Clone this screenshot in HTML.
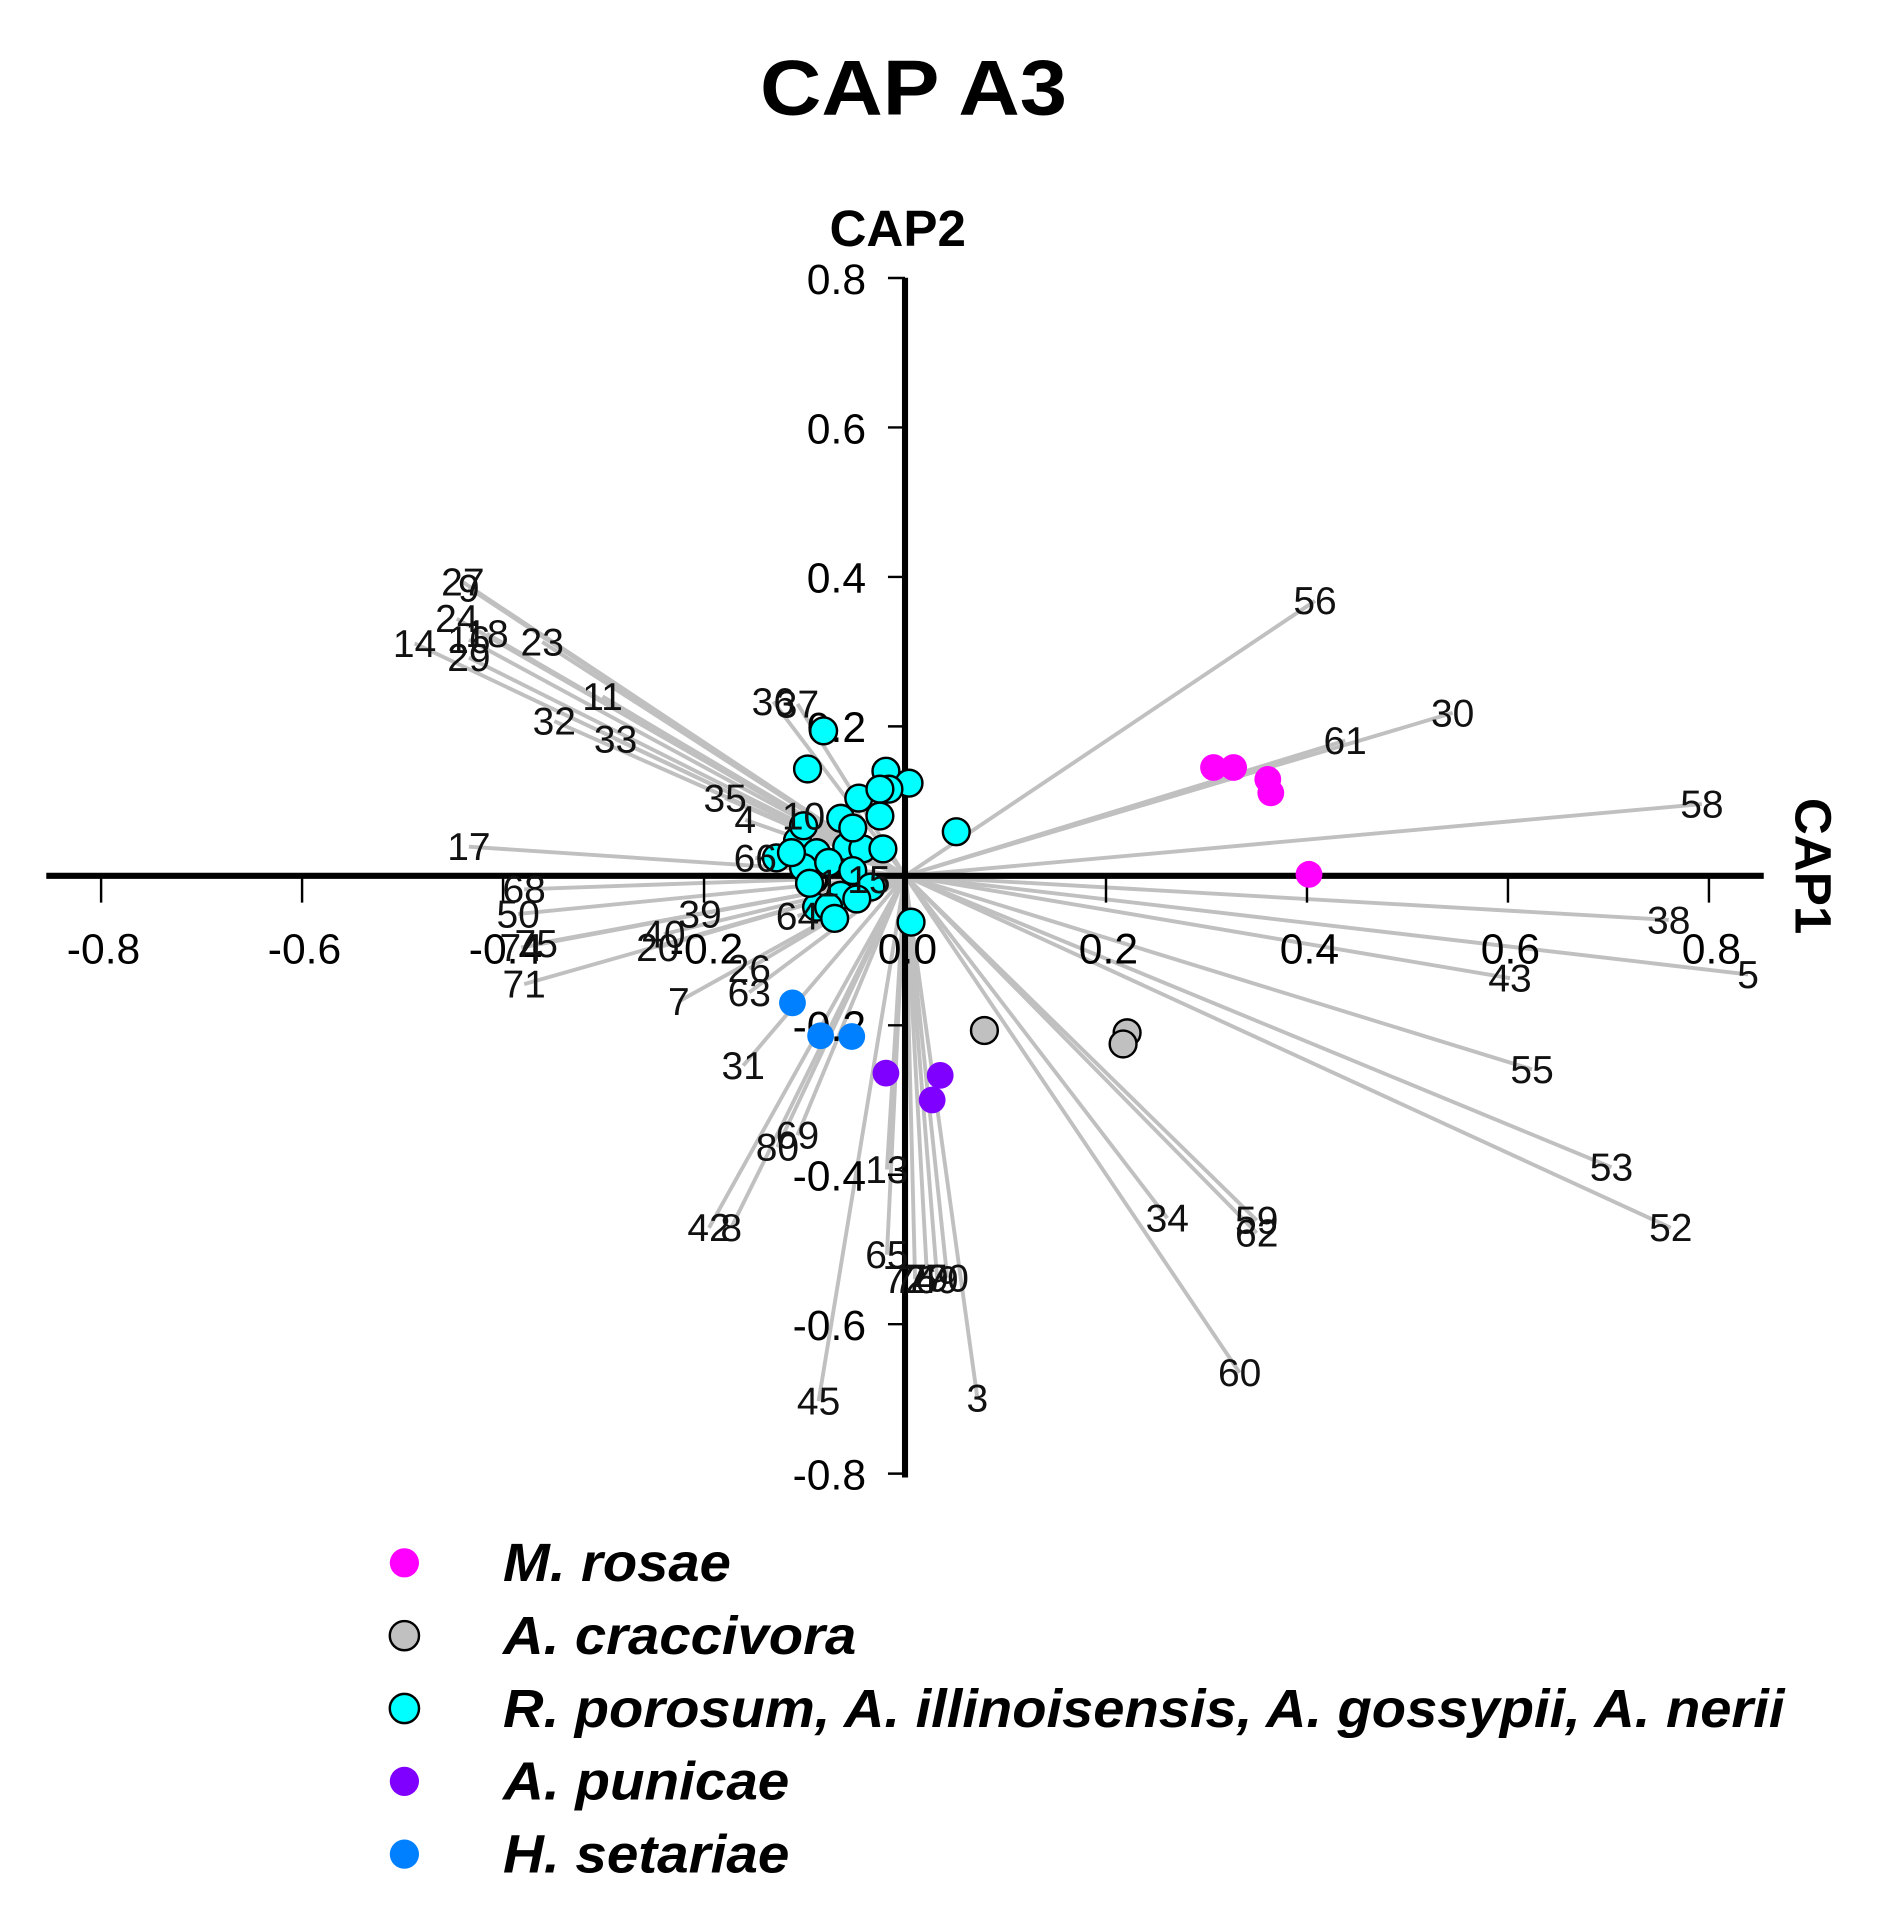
<!DOCTYPE html>
<html><head><meta charset="utf-8"><style>
html,body{margin:0;padding:0;background:#fff;}
svg{display:block;}
text{font-family:"Liberation Sans",Arial,sans-serif;}
</style></head><body>
<svg id="chart" width="1888" height="1910" viewBox="0 0 1550 1568" xmlns="http://www.w3.org/2000/svg">
<text x="750" y="94" font-size="64" font-weight="bold" text-anchor="middle" textLength="252" lengthAdjust="spacingAndGlyphs">CAP A3</text>
<text x="737" y="202" font-size="42" font-weight="bold" text-anchor="middle">CAP2</text>
<text transform="translate(1474,711) rotate(90)" font-size="42" font-weight="bold" text-anchor="middle">CAP1</text>
<g id="vectors"></g>
<g id="axes"></g>
<g id="points"></g>
<g id="vlabels"></g>
<g id="legend"></g>
</svg>
<script>
const vecLabels=["27","9","24","16","18","14","29","23","11","32","33","36","37","35","4","17","68","50","75","74","71","39","40","20","26","7","63","31","69","80","42","8","13","45","65","72","76","79","49","70","3","34","59","62","60","52","53","55","43","5","38","58","30","61","56","10","66","1","15","64"];
const vecX=[-0.440,-0.434,-0.446,-0.434,-0.416,-0.488,-0.434,-0.361,-0.301,-0.349,-0.288,-0.131,-0.107,-0.179,-0.159,-0.434,-0.379,-0.385,-0.367,-0.382,-0.379,-0.204,-0.240,-0.246,-0.155,-0.225,-0.155,-0.161,-0.107,-0.127,-0.195,-0.173,-0.018,-0.086,-0.018,0.000,0.010,0.022,0.032,0.042,0.072,0.261,0.350,0.350,0.333,0.762,0.703,0.624,0.602,0.839,0.760,0.793,0.545,0.438,0.408,-0.101,-0.149,-0.076,-0.036,-0.107];
const vecY=[0.393,0.385,0.344,0.316,0.324,0.311,0.292,0.313,0.240,0.207,0.183,0.233,0.230,0.104,0.075,0.039,-0.018,-0.051,-0.091,-0.096,-0.145,-0.051,-0.078,-0.096,-0.124,-0.168,-0.156,-0.254,-0.347,-0.363,-0.471,-0.471,-0.393,-0.703,-0.507,-0.540,-0.540,-0.538,-0.540,-0.538,-0.699,-0.458,-0.461,-0.478,-0.665,-0.471,-0.390,-0.259,-0.137,-0.132,-0.059,0.096,0.218,0.181,0.368,0.080,0.024,-0.010,-0.005,-0.054];
const magX=[0.307,0.327,0.361,0.364,0.402];
const magY=[0.145,0.145,0.129,0.111,0.002];
const grayX=[0.079,0.221,0.217];
const grayY=[-0.207,-0.210,-0.225];
const purX=[-0.019,0.035,0.027];
const purY=[-0.264,-0.267,-0.300];
const bluX=[-0.112,-0.084,-0.053];
const bluY=[-0.170,-0.214,-0.215];
const cyX=[-0.081,-0.097,-0.019,0.004,-0.046,-0.016,-0.025,-0.064,-0.025,0.051,-0.107,-0.101,-0.088,-0.058,-0.042,-0.022,-0.128,-0.101,-0.076,-0.052,-0.034,-0.064,-0.088,-0.048,-0.076,-0.070,0.006,-0.095,-0.052,-0.113];
const cyY=[0.194,0.143,0.140,0.124,0.104,0.116,0.116,0.077,0.080,0.059,0.047,0.067,0.031,0.039,0.036,0.036,0.024,0.011,0.018,0.007,-0.015,-0.026,-0.042,-0.031,-0.042,-0.057,-0.062,-0.010,0.064,0.031];
const ticks=[-0.8,-0.6,-0.4,-0.2,0.0,0.2,0.4,0.6,0.8];
const tickText=["-0.8","-0.6","-0.4","-0.2","0.0","0.2","0.4","0.6","0.8"];
const legendLabels=["M. rosae","A. craccivora","R. porosum, A. illinoisensis, A. gossypii, A. nerii","A. punicae","H. setariae"];
const legendWidths=[187,290,1052,235,235];

const NS="http://www.w3.org/2000/svg";
const X0=743,Y0=719,SX=825,SY=613.5;
function sx(v){return X0+v*SX;}
function sy(v){return Y0-v*SY;}
function mk(tag,parent,attrs){const e=document.createElementNS(NS,tag);for(const k in attrs)e.setAttribute(k,attrs[k]);parent.appendChild(e);return e;}
const gV=document.getElementById('vectors'),gA=document.getElementById('axes'),gP=document.getElementById('points'),gL=document.getElementById('vlabels'),gG=document.getElementById('legend');

for(let i=0;i<vecLabels.length;i++){
  const l=mk('line',gV,{x1:X0,y1:Y0,x2:sx(vecX[i]),y2:sy(vecY[i]),stroke:'#c0c0c0','stroke-width':3.2});
  
  
  const t=mk('text',gL,{x:sx(vecX[i]),y:sy(vecY[i])+11,'font-size':32,'text-anchor':'middle',fill:'#111'});
  t.textContent=vecLabels[i];
  
  
}
const xa=mk('line',gA,{x1:38,y1:Y0,x2:1448,y2:Y0,stroke:'#000','stroke-width':5});


const ya=mk('line',gA,{x1:X0,y1:228,x2:X0,y2:1213,stroke:'#000','stroke-width':5});


for(let i=0;i<ticks.length;i++){
  const tx=mk('line',gA,{x1:sx(ticks[i]),y1:Y0,x2:sx(ticks[i]),y2:Y0+22,stroke:'#000','stroke-width':2});
  
  
  const lx=mk('text',gA,{x:sx(ticks[i])+2,y:791,'font-size':35,'text-anchor':'middle'});
  lx.textContent=tickText[i];
  
  
  const ty=mk('line',gA,{x1:X0-14,y1:sy(ticks[i]),x2:X0,y2:sy(ticks[i]),stroke:'#000','stroke-width':2});
  
  
  const ly=mk('text',gA,{x:711,y:sy(ticks[i])+13,'font-size':35,'text-anchor':'end'});
  ly.textContent=tickText[i];
  
  
}
function pts(xs,ys,fill,stroke,name){
  for(let i=0;i<xs.length;i++){
    const c=mk('circle',gP,{cx:sx(xs[i]),cy:sy(ys[i]),r:11,fill:fill});
    if(stroke){c.setAttribute('stroke','#000');c.setAttribute('stroke-width','2');}
    
    
  }
}
pts(cyX,cyY,'#00ffff',true,'point-r-porosum-group');
pts(magX,magY,'#ff00ff',false,'point-m-rosae');
pts(grayX,grayY,'#c0c0c0',true,'point-a-craccivora');
pts(purX,purY,'#8000ff',false,'point-a-punicae');
pts(bluX,bluY,'#0080ff',false,'point-h-setariae');
const legFill=['#ff00ff','#c0c0c0','#00ffff','#8000ff','#0080ff'];
const legStroke=[false,true,true,false,false];
for(let i=0;i<legendLabels.length;i++){
  const y=1283+i*59.8;
  const c=mk('circle',gG,{cx:332,cy:y,r:12,fill:legFill[i]});
  if(legStroke[i]){c.setAttribute('stroke','#000');c.setAttribute('stroke-width','2');}
  
  
  const t=mk('text',gG,{x:413,y:y+15,'font-size':44,'font-weight':'bold','font-style':'italic',textLength:legendWidths[i],lengthAdjust:'spacingAndGlyphs'});
  t.textContent=legendLabels[i];
  
  
}
</script>
</body></html>
